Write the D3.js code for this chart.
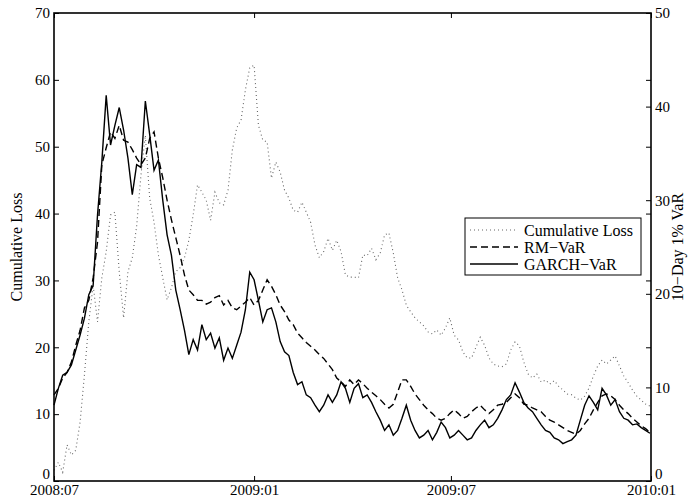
<!DOCTYPE html>
<html>
<head>
<meta charset="utf-8">
<script src="https://cdn.jsdelivr.net/npm/d3@7"></script>
<style>
  body { margin: 0; background: #fff; }
  text { font-family: "Liberation Serif", "DejaVu Serif", serif; }
</style>
</head>
<body>
<div id="chart"></div>
<script>
const dates = [
  "2008-07-01","2008-07-05","2008-07-09","2008-07-13","2008-07-17","2008-07-21","2008-07-25","2008-07-29",
  "2008-08-02","2008-08-06","2008-08-10","2008-08-14","2008-08-18","2008-08-22","2008-08-26","2008-08-30",
  "2008-09-03","2008-09-07","2008-09-11","2008-09-15","2008-09-19","2008-09-23","2008-09-27",
  "2008-10-01","2008-10-05","2008-10-09","2008-10-13","2008-10-17","2008-10-21","2008-10-25","2008-10-29",
  "2008-11-02","2008-11-06","2008-11-10","2008-11-14","2008-11-18","2008-11-22","2008-11-26","2008-11-30",
  "2008-12-04","2008-12-08","2008-12-12","2008-12-16","2008-12-20","2008-12-24","2008-12-28",
  "2009-01-01","2009-01-05","2009-01-09","2009-01-13","2009-01-17","2009-01-21","2009-01-25","2009-01-29",
  "2009-02-02","2009-02-06","2009-02-10","2009-02-14","2009-02-18","2009-02-22","2009-02-26",
  "2009-03-02","2009-03-06","2009-03-10","2009-03-14","2009-03-18","2009-03-22","2009-03-26","2009-03-30",
  "2009-04-03","2009-04-07","2009-04-11","2009-04-15","2009-04-19","2009-04-23","2009-04-27",
  "2009-05-01","2009-05-05","2009-05-09","2009-05-13","2009-05-17","2009-05-21","2009-05-25","2009-05-29",
  "2009-06-02","2009-06-06","2009-06-10","2009-06-14","2009-06-18","2009-06-22","2009-06-26","2009-06-30",
  "2009-07-04","2009-07-08","2009-07-12","2009-07-16","2009-07-20","2009-07-24","2009-07-28",
  "2009-08-01","2009-08-05","2009-08-09","2009-08-13","2009-08-17","2009-08-21","2009-08-25","2009-08-29",
  "2009-09-02","2009-09-06","2009-09-10","2009-09-14","2009-09-18","2009-09-22","2009-09-26","2009-09-30",
  "2009-10-04","2009-10-08","2009-10-12","2009-10-16","2009-10-20","2009-10-24","2009-10-28",
  "2009-11-01","2009-11-05","2009-11-09","2009-11-13","2009-11-17","2009-11-21","2009-11-25","2009-11-29",
  "2009-12-03","2009-12-07","2009-12-11","2009-12-15","2009-12-19","2009-12-23","2009-12-27","2009-12-31"
];

// left axis
const cumLoss = [
  1.6,2.8,1.3,5.4,3.9,4.6,8.8,15.9,
  23.8,29.3,23.8,30.4,34.3,39.8,40.2,31.3,
  24.4,31.3,33.4,38.1,45.8,51.7,42.3,
  38.7,33.8,30.4,27.1,28.9,31.3,31.9,33.4,
  36.0,39.8,44.3,43.2,42.0,39.0,43.2,41.6,
  41.3,43.5,49.5,52.8,54.0,58.5,61.8,
  62.2,53.2,51.0,50.7,45.3,47.7,46.2,43.5,
  42.3,40.5,40.2,41.7,40.2,38.7,35.3,
  33.4,34.3,36.3,34.5,36.0,34.3,30.8,30.5,
  30.5,30.4,33.8,33.7,34.8,33.1,34.1,
  36.8,37.1,34.1,30.4,28.6,26.3,25.3,24.4,
  23.8,23.2,22.3,22.0,22.6,21.8,22.9,24.4,
  21.8,21.1,19.3,18.4,18.4,20.0,21.5,
  20.3,18.4,17.5,17.2,17.1,17.5,19.6,20.8,
  20.2,17.8,16.0,15.4,16.0,14.8,15.1,14.5,
  15.0,14.2,13.6,13.0,12.9,12.4,12.1,
  12.7,13.9,15.7,17.2,18.1,17.5,18.1,18.7,
  17.2,15.7,14.7,13.6,12.7,12.1,11.5,11.2
];

// right axis
const rmVaR = [
  9.2,9.9,11.0,11.6,12.7,14.5,16.1,18.5,
  19.3,21.7,25.5,33.8,35.6,37.3,36.6,38.0,
  36.4,36.2,35.4,34.5,33.8,34.5,36.6,
  37.3,34.5,32.4,30.0,27.9,26.0,24.1,22.0,
  20.4,19.9,19.3,19.3,18.9,19.1,19.6,19.8,
  18.8,19.3,18.5,18.3,18.7,19.1,19.6,
  18.8,19.3,20.4,21.5,20.8,19.9,18.8,18.1,
  17.2,16.7,15.8,15.3,14.8,14.4,14.0,
  13.5,13.1,12.5,11.9,11.0,10.6,10.1,10.8,
  10.3,10.8,10.4,9.9,9.5,9.1,8.7,
  8.2,7.8,8.2,9.5,10.8,10.8,10.1,9.3,
  8.7,8.1,7.6,7.2,6.7,6.5,6.7,7.2,
  7.6,7.2,6.7,6.9,7.4,7.8,8.1,
  7.6,7.2,7.6,8.1,8.2,8.4,8.9,9.3,
  8.9,8.2,8.1,7.8,7.6,7.4,6.9,6.5,
  6.3,6.0,5.7,5.4,5.2,5.0,5.4,
  6.1,6.7,7.6,8.4,9.1,9.3,9.1,8.7,
  8.1,7.6,7.2,6.7,6.3,5.9,5.6,5.2
];

const garchVaR = [
  8.1,9.9,11.3,11.6,12.4,14.0,15.6,17.4,
  19.9,20.9,28.4,34.1,41.2,35.9,38.0,39.9,
  37.5,34.5,30.6,33.8,33.5,40.6,37.0,
  33.2,34.3,30.0,26.3,24.1,20.4,18.3,16.1,
  13.5,15.1,14.0,16.7,15.1,15.8,14.2,15.3,
  12.9,14.2,13.1,14.5,15.9,18.3,22.3,
  21.5,19.3,17.0,18.3,18.5,17.0,14.9,13.8,
  13.4,11.6,10.3,10.6,9.2,8.9,8.1,
  7.4,8.1,9.2,8.4,9.2,10.6,9.9,8.4,
  9.9,10.4,8.9,9.2,8.4,7.4,6.5,
  5.4,6.0,4.9,5.4,6.7,8.1,6.5,5.4,
  4.6,4.9,5.4,4.4,5.2,6.3,5.7,4.6,
  4.9,5.4,4.9,4.4,4.6,5.4,6.0,
  6.5,5.7,6.0,6.7,7.6,8.7,9.2,10.5,
  9.5,8.4,7.8,7.4,6.7,6.0,5.4,5.2,
  4.6,4.4,4.0,4.2,4.4,4.9,6.5,
  8.1,9.1,8.4,7.6,9.9,9.2,8.1,8.7,
  7.4,6.7,6.5,6.0,6.1,5.7,5.4,5.1
];

const leftTicks = [0, 10, 20, 30, 40, 50, 60, 70];
const rightTicks = [0, 10, 20, 30, 40, 50];
const xTicks = ["2008-07-01", "2009-01-01", "2009-07-01", "2010-01-01"];
const legendLabels = ["Cumulative Loss", "RM\u2212VaR", "GARCH\u2212VaR"];

const W = 691, H = 502;
const margin = { top: 13, right: 40, bottom: 21, left: 54 };
const parse = d3.timeParse("%Y-%m-%d");

const svg = d3.select("#chart").append("svg").attr("width", W).attr("height", H);

const x = d3.scaleTime()
  .domain([parse("2008-07-01"), parse("2010-01-01")])
  .range([margin.left, W - margin.right]);
const yL = d3.scaleLinear().domain([0, 70]).range([H - margin.bottom, margin.top]);
const yR = d3.scaleLinear().domain([0, 50]).range([H - margin.bottom, margin.top]);

const pts = dates.map(parse);

const lineL = d3.line().x((d, i) => x(pts[i])).y(d => yL(d));
const lineR = d3.line().x((d, i) => x(pts[i])).y(d => yR(d));

svg.append("path").datum(cumLoss).attr("d", lineL)
  .attr("fill", "none").attr("stroke", "#666").attr("stroke-width", 1.1)
  .attr("stroke-dasharray", "1,3");
svg.append("path").datum(rmVaR).attr("d", lineR)
  .attr("fill", "none").attr("stroke", "#000").attr("stroke-width", 1.4)
  .attr("stroke-dasharray", "7,4");
svg.append("path").datum(garchVaR).attr("d", lineR)
  .attr("fill", "none").attr("stroke", "#000").attr("stroke-width", 1.4);

const fmtX = d3.timeFormat("%Y:%m");

// axes, ticks pointing inwards
const gL = svg.append("g").attr("transform", `translate(${margin.left},0)`)
  .call(d3.axisLeft(yL).tickValues(leftTicks).tickSizeInner(-5).tickSizeOuter(0).tickPadding(4));
const gLm = svg.append("g").attr("transform", `translate(${W - margin.right},0)`)
  .call(d3.axisRight(yL).tickValues(leftTicks).tickSizeInner(-5).tickSizeOuter(0).tickFormat(""));
const gR = svg.append("g").attr("transform", `translate(${W - margin.right},0)`)
  .call(d3.axisRight(yR).tickValues(rightTicks).tickSizeInner(-5).tickSizeOuter(0).tickPadding(4));
const gB = svg.append("g").attr("transform", `translate(0,${H - margin.bottom})`)
  .call(d3.axisBottom(x).tickValues(xTicks.map(parse)).tickFormat(fmtX).tickSizeInner(-5).tickSizeOuter(0).tickPadding(3));
const gT = svg.append("g").attr("transform", `translate(0,${margin.top})`)
  .call(d3.axisTop(x).tickValues(xTicks.map(parse)).tickFormat("").tickSizeInner(-5).tickSizeOuter(0));

[gL, gLm, gR, gB, gT].forEach(g => {
  g.select(".domain").remove();
  g.selectAll("line").attr("stroke", "#000").attr("stroke-width", 1);
  g.selectAll("text").attr("font-family", "Liberation Serif").attr("font-size", 15).attr("fill", "#000");
});
gB.selectAll("text").attr("dy", "0.75em");
// lift the zero labels so they sit just above the dates
gL.selectAll(".tick").filter(d => d === 0).select("text").attr("dy", "-0.18em");
gR.selectAll(".tick").filter(d => d === 0).select("text").attr("dy", "-0.18em");

svg.append("rect")
  .attr("x", margin.left).attr("y", margin.top)
  .attr("width", W - margin.left - margin.right)
  .attr("height", H - margin.top - margin.bottom)
  .attr("fill", "none").attr("stroke", "#000").attr("stroke-width", 1.6);

svg.append("text")
  .attr("transform", `translate(22,${(margin.top + H - margin.bottom) / 2}) rotate(-90)`)
  .attr("text-anchor", "middle").attr("font-size", 16).text("Cumulative Loss");
svg.append("text")
  .attr("transform", `translate(683,${(margin.top + H - margin.bottom) / 2}) rotate(-90)`)
  .attr("text-anchor", "middle").attr("font-size", 16).text("10\u2212Day 1% VaR");

// legend
const lg = svg.append("g").attr("transform", "translate(465,218)");
lg.append("rect").attr("width", 176).attr("height", 57)
  .attr("fill", "#fff").attr("stroke", "#000").attr("stroke-width", 1);
const styles = [
  { stroke: "#666", dash: "1,3", w: 1.1 },
  { stroke: "#000", dash: "7,4", w: 1.4 },
  { stroke: "#000", dash: null, w: 1.4 }
];
legendLabels.forEach((lab, i) => {
  const yy = 12 + i * 17;
  lg.append("line").attr("x1", 5).attr("x2", 53).attr("y1", yy).attr("y2", yy)
    .attr("stroke", styles[i].stroke).attr("stroke-width", styles[i].w)
    .attr("stroke-dasharray", styles[i].dash);
  lg.append("text").attr("x", 59).attr("y", yy).attr("dy", "0.35em")
    .attr("font-size", 16).text(lab);
});
</script>
</body>
</html>
